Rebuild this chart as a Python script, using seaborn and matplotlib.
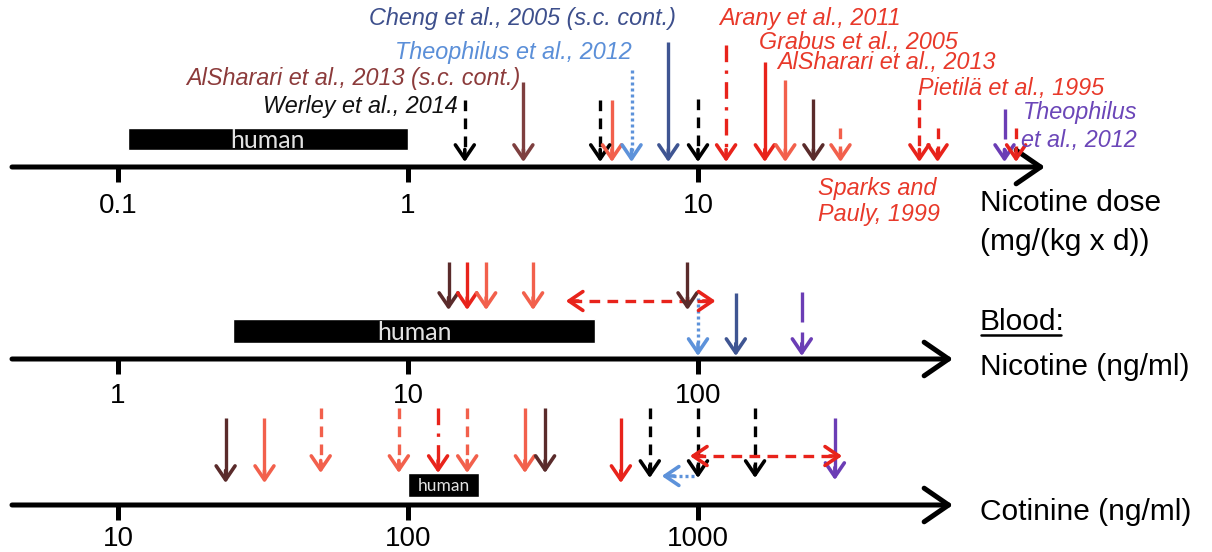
import matplotlib
matplotlib.use("Agg")
import matplotlib.pyplot as plt
import seaborn as sns

# ---- data ----
# nicotine dose, mg/(kg x d)
dose_vals = [1.57, 2.5, 4.6, 5.05, 5.9, 7.9, 10, 12.5, 17, 20, 25, 31, 58, 67, 114, 125]
dose_ticks = [0.1, 1, 10]
dose_human = [0.108, 1.0]

# blood nicotine, ng/ml
nic_vals = [13.8, 16, 18.6, 27, 92, 100, 135, 228]
nic_range = [35, 115]
nic_ticks = [1, 10, 100]
nic_human = [2.5, 44]

# cotinine, ng/ml
cot_vals = [23.5, 32, 50, 93, 127, 160, 253, 297, 542, 682, 1000, 1573, 2965]
cot_range = [938, 3140]
cot_shift = [1000, 750]
cot_ticks = [10, 100, 1000]
cot_human = [100, 176]

# ---- styles ----
COL = {'k': '#000000', 'br': '#7e3f3f', 'dbr': '#5a2b2b', 'red': '#e8231b',
       'sal': '#f2604c', 'lb': '#5d92da', 'db': '#3f5592', 'pu': '#6b3db5'}
LS = {'-': '-', '--': (0, (3.2, 2.2)), ':': (0, (0.9, 0.9)),
      '-.': (0, (5, 2.5, 1, 2.5)), 'long': (0, (9, 3))}

dose_col = ['k', 'br', 'k', 'sal', 'lb', 'db', 'k', 'red', 'red', 'sal', 'dbr', 'sal', 'red', 'red', 'pu', 'red']
dose_ls = ['--', '-', '--', '-', ':', '-', '--', '-.', '-', '-', '-', '--', '--', '--', 'long', '--']
dose_top = [100, 82, 100, 100, 70, 42, 99, 45, 62, 80, 99, 128, 99, 128, 109, 128]

nic_col = ['dbr', 'red', 'sal', 'sal', 'dbr', 'lb', 'db', 'pu']
nic_ls = ['-', '-', '-', '-', '-', ':', '-', 'long']
nic_top = [262, 262, 262, 262, 262, 298, 293, 292]
nic_tip = [310, 310, 310, 310, 310, 356, 356, 356]

cot_col = ['dbr', 'sal', 'sal', 'sal', 'red', 'sal', 'sal', 'dbr', 'red', 'k', 'k', 'k', 'pu']
cot_ls = ['-', '-', '--', '--', '-.', '--', '-', '-', '-', '--', '--', '--', '-']
cot_top = [418, 418, 408, 408, 408, 408, 408, 408, 418, 408, 408, 408, 418]
cot_tip = [483, 483, 473, 473, 473, 473, 473, 473, 483, 478, 478, 478, 480]

W, H = 1212, 552
DEC, REF = 290.0, 408.0

sns.set_theme(style="white")
plt.rcParams['font.family'] = ['Liberation Sans', 'DejaVu Sans']
plt.rcParams['text.color'] = 'black'

fig = plt.figure(figsize=(W / 100, H / 100), dpi=100)


def make_axes(ref_val):
    ax = fig.add_axes([0, 0, 1, 1])
    ax.set_xscale('log')
    ax.set_xlim(ref_val * 10 ** (-REF / DEC), ref_val * 10 ** ((W - REF) / DEC))
    ax.set_ylim(H, 0)
    ax.axis('off')
    ax.patch.set_alpha(0)
    return ax


def head(ax, x, y, color, dx=0, dy=9):
    ax.annotate('', xy=(x, y), xytext=(dx, dy), textcoords='offset points',
                arrowprops=dict(arrowstyle='->,head_length=0.5,head_width=0.34',
                                color=color, lw=2.6, shrinkA=0, shrinkB=0,
                                mutation_scale=20))


def down_arrow(ax, x, top, tip, color, ls):
    ax.plot([x, x], [top, tip - 8], color=color, lw=2.4, linestyle=LS[ls],
            solid_capstyle='butt', dash_capstyle='butt')
    head(ax, x, tip, color)


def double_arrow(ax, lo, hi, y, color):
    ax.plot([lo * 1.04, hi / 1.04], [y, y], color=color, lw=2.4,
            linestyle=(0, (3.2, 2.2)), dash_capstyle='butt')
    head(ax, lo, y, color, dx=9, dy=0)
    head(ax, hi, y, color, dx=-9, dy=0)


def axis_line(ax, y, end_px, ticks, label_y, human, hy, hh, hsize):
    ax.annotate('', xy=(end_px / W, y), xytext=(12 / W, y),
                xycoords=('axes fraction', 'data'),
                arrowprops=dict(arrowstyle='->,head_length=0.8,head_width=0.55',
                                color='black', lw=3.6, shrinkA=0, shrinkB=0,
                                mutation_scale=22))
    ax.vlines(ticks, y, y + 15, color='black', lw=3.6)
    for t in ticks:
        ax.text(t, label_y, f'{t:g}', ha='center', va='center', fontsize=20,
                color='black')
    lo, hi = human
    ax.barh(hy, hi - lo, left=lo, height=hh, color='black')
    ax.text((lo * hi) ** 0.5, hy + 1, 'human', ha='center', va='center',
            color='#e2e2e2', fontsize=hsize, family=['Lato', 'DejaVu Sans'])


# top axis: dose
ax1 = make_axes(1)
axis_line(ax1, 167, 1045, dose_ticks, 206, dose_human, 139, 22, 18)
for v, c, s, t in zip(dose_vals, dose_col, dose_ls, dose_top):
    down_arrow(ax1, v, t, 162, COL[c], s)

# middle axis: blood nicotine
ax2 = make_axes(10)
axis_line(ax2, 359, 953, nic_ticks, 396, nic_human, 331, 24, 18)
for v, c, s, t, e in zip(nic_vals, nic_col, nic_ls, nic_top, nic_tip):
    down_arrow(ax2, v, t, e, COL[c], s)
double_arrow(ax2, nic_range[0], nic_range[1], 301, COL['red'])

# bottom axis: cotinine
ax3 = make_axes(100)
axis_line(ax3, 505, 953, cot_ticks, 539, cot_human, 485, 24, 12.5)
for v, c, s, t, e in zip(cot_vals, cot_col, cot_ls, cot_top, cot_tip):
    down_arrow(ax3, v, t, e, COL[c], s)
double_arrow(ax3, cot_range[0], cot_range[1], 456, COL['red'])
ax3.plot([cot_shift[0] / 1.03, cot_shift[1] * 1.08], [476, 476], color=COL['lb'],
         lw=2.4, linestyle=LS[':'])
head(ax3, cot_shift[1], 476, COL['lb'], dx=9, dy=0)

# text overlay in pixel coordinates
tx = fig.add_axes([0, 0, 1, 1])
tx.set_xlim(0, W)
tx.set_ylim(H, 0)
tx.axis('off')
tx.patch.set_alpha(0)

ref_fs = 16.8
refs = [
    ('Cheng et al., 2005 (s.c. cont.)', 676, 18, 'right', '#3d4f8c'),
    ('Theophilus et al., 2012', 632, 52, 'right', '#5b8fd8'),
    ('AlSharari et al., 2013 (s.c. cont.)', 520, 78, 'right', '#8c3b3b'),
    ('Werley et al., 2014', 458, 107, 'right', '#111111'),
    ('Arany et al., 2011', 719, 18, 'left', '#e8392a'),
    ('Grabus et al., 2005', 759, 42, 'left', '#e8392a'),
    ('AlSharari et al., 2013', 777, 63, 'left', '#e8392a'),
    ('Pietilä et al., 1995', 918, 88, 'left', '#e8392a'),
    ('Theophilus', 1023, 113, 'left', '#6b46b8'),
    ('et al., 2012', 1021, 140, 'left', '#6b46b8'),
    ('Sparks and', 818, 188, 'left', '#e8392a'),
    ('Pauly, 1999', 818, 215, 'left', '#e8392a'),
]
for s, x, y, ha, c in refs:
    tx.text(x, y, s, ha=ha, va='center', fontsize=ref_fs, style='italic', color=c)

ax_fs = 21.5
tx.text(980, 203, 'Nicotine dose', ha='left', va='center', fontsize=ax_fs)
tx.text(980, 242, '(mg/(kg x d))', ha='left', va='center', fontsize=ax_fs)
tx.text(980, 322, 'Blood:', ha='left', va='center', fontsize=ax_fs)
tx.plot([981, 1061], [335, 335], color='black', lw=1.8)
tx.text(980, 367, 'Nicotine (ng/ml)', ha='left', va='center', fontsize=ax_fs)
tx.text(980, 512, 'Cotinine (ng/ml)', ha='left', va='center', fontsize=ax_fs)

fig.savefig('out.png', dpi=100, facecolor='white')
